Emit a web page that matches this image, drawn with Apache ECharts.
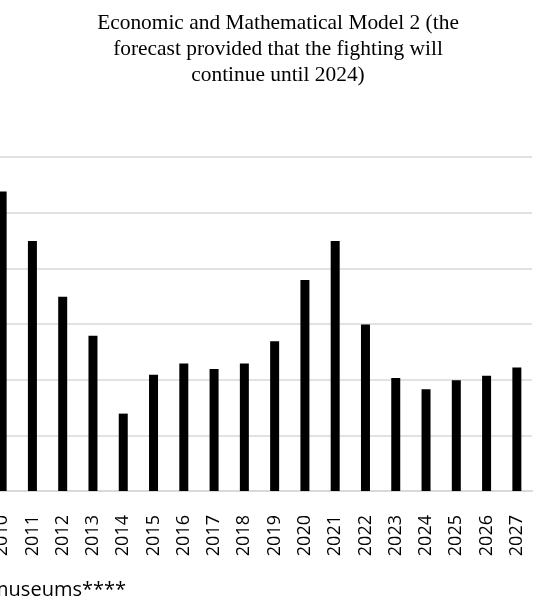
<!DOCTYPE html>
<html>
<head>
<meta charset="utf-8">
<script src="https://cdn.jsdelivr.net/npm/echarts@6/dist/echarts.min.js"></script>
<style>
  html, body { margin: 0; padding: 0; background: #fff; overflow: hidden; }
  /* the reference is a crop: the chart starts 13px left of the window */
  #main { width: 560px; height: 602px; margin-left: -13px; }
</style>
</head>
<body>
<div id="main"></div>
<script>
var years = ['2010', '2011', '2012', '2013', '2014', '2015', '2016', '2017', '2018',
    '2019', '2020', '2021', '2022', '2023', '2024', '2025', '2026', '2027'];
var museums = [53.8, 44.9, 34.9, 27.9, 13.9, 20.9, 22.9, 21.9, 22.9,
    26.9, 37.9, 44.9, 29.9, 20.3, 18.3, 19.9, 20.7, 22.2];
var titleLines = ['Economic and Mathematical Model 2 (the',
    'forecast provided that the fighting will',
    'continue until 2024)'];
var legendText = 'Number of museums****';

var chart = echarts.init(document.getElementById('main'), null, { renderer: 'canvas' });
var option;
option = {
    backgroundColor: '#fff',
    animation: false,
    graphic: [
        {
            type: 'text',
            x: 291,
            y: 10,
            style: {
                text: titleLines.join('\n'),
                font: '21.4px "Liberation Serif"',
                lineHeight: 26,
                fill: '#000',
                textAlign: 'center',
                textVerticalAlign: 'top'
            }
        },
        {
            type: 'text',
            x: 139,
            y: 600,
            style: {
                text: legendText,
                font: '20px "Open Sans"',
                fill: '#000',
                textAlign: 'right',
                textVerticalAlign: 'bottom'
            }
        }
    ],
    grid: {
        left: 0,
        right: 15,
        top: 157,
        bottom: 111,
        containLabel: false
    },
    xAxis: {
        type: 'category',
        data: years,
        axisLine: { lineStyle: { color: '#d9d9d9', width: 2 } },
        axisTick: { show: false },
        axisLabel: {
            rotate: 90,
            margin: 24,
            interval: 0,
            color: '#000',
            fontFamily: 'Open Sans',
            fontSize: 18
        }
    },
    yAxis: {
        type: 'value',
        min: 0,
        max: 60,
        interval: 10,
        axisLine: { show: false },
        axisTick: { show: false },
        axisLabel: { show: false },
        splitLine: { lineStyle: { color: '#d9d9d9', width: 1.5 } }
    },
    series: [
        {
            name: legendText,
            type: 'bar',
            data: museums,
            barWidth: 9,
            itemStyle: { color: '#000' }
        }
    ]
};

if (option && typeof option === 'object') {
    chart.setOption(option);
}

window.addEventListener('resize', function () {
    chart.resize();
});
</script>
</body>
</html>
